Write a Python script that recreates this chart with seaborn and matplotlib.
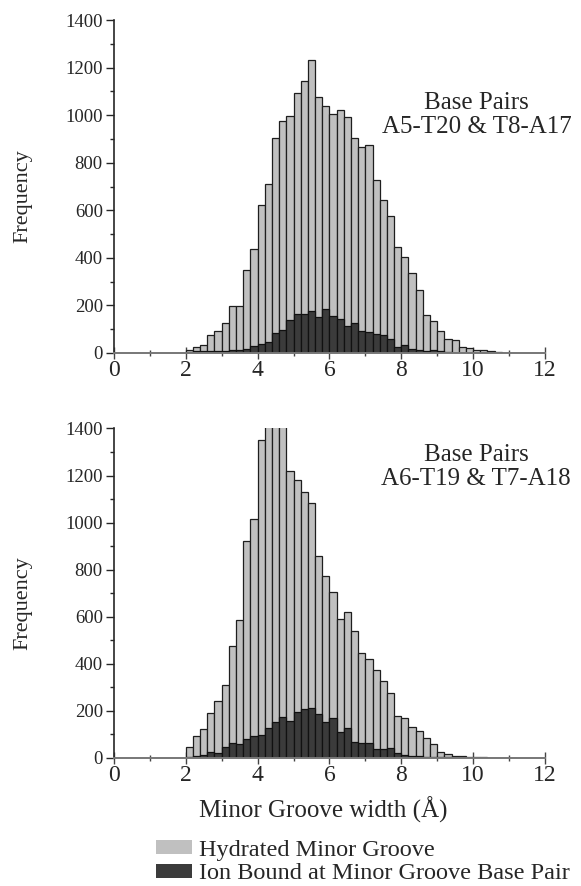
import numpy as np
import pandas as pd
import matplotlib
matplotlib.use('Agg')
import matplotlib.pyplot as plt
from matplotlib.patches import Patch
from matplotlib.ticker import MultipleLocator
import seaborn as sns

# minor groove width bins (left edge, Å), 0.2 Å wide
bin_left = np.round(np.arange(2.0, 11.2, 0.2), 1)
bin_edges = np.round(np.arange(2.0, 11.3, 0.2), 1)

# base pairs A5-T20 & T8-A17
hydrated_a5 = [13, 24, 34, 77, 92, 126, 197, 197, 348, 439,
               621, 710, 902, 974, 997, 1094, 1143, 1230, 1078, 1037,
               1004, 1023, 991, 902, 866, 874, 729, 643, 577, 447,
               403, 337, 264, 159, 135, 92, 60, 55, 26, 20,
               13, 14, 10, 6, 2, 2]
ion_a5 = [3, 7, 7, 9, 9, 10, 11, 13, 17, 28,
          38, 45, 84, 98, 138, 166, 163, 176, 152, 185,
          156, 141, 115, 125, 91, 89, 81, 74, 60, 24,
          34, 18, 14, 7, 13, 7, 3, 2, 1, 1,
          0, 0, 0, 0, 0, 0]

# base pairs A6-T19 & T7-A18 (4.2-4.6 go off the top of the axis)
hydrated_a6 = [44, 91, 122, 189, 240, 310, 474, 584, 922, 1017,
               1349, 1500, 1560, 1480, 1219, 1180, 1128, 1084, 859, 774,
               703, 588, 619, 540, 447, 418, 375, 328, 277, 176,
               170, 132, 114, 82, 58, 26, 14, 9, 6, 3,
               2, 2, 0, 0, 0, 0]
ion_a6 = [1, 7, 11, 24, 20, 44, 61, 57, 78, 91,
          95, 125, 153, 175, 158, 195, 207, 213, 186, 151,
          170, 111, 125, 68, 62, 61, 36, 36, 40, 18,
          10, 7, 8, 4, 3, 2, 1, 0, 0, 0,
          0, 0, 0, 0, 0, 0]

labels = ['Base Pairs\nA5-T20 & T8-A17', 'Base Pairs\nA6-T19 & T7-A18']
legend_names = ['Hydrated Minor Groove', 'Ion Bound at Minor Groove Base Pair']

light = '#c0c0c0'
dark = '#3b3b3b'

sns.set_style('ticks')
plt.rcParams['font.family'] = ['Liberation Serif', 'DejaVu Serif']

fig = plt.figure(figsize=(5.81, 8.86), dpi=100)
ax1 = fig.add_axes([0.196, 0.6016, 0.742, 0.3758])
ax2 = fig.add_axes([0.196, 0.1448, 0.742, 0.3716])

panels = [(ax1, hydrated_a5, ion_a5, labels[0], 10.1, 1000),
          (ax2, hydrated_a6, ion_a6, labels[1], 10.08, 1236)]

for ax, hyd, ion, lab, tx, ty in panels:
    df = pd.DataFrame({'width': bin_left + 0.1, 'hyd': hyd, 'ion': ion})
    sns.histplot(data=df, x='width', weights='hyd', bins=list(bin_edges),
                 ax=ax, color=light, edgecolor='#1e1e1e', linewidth=0.9,
                 alpha=1)
    sns.histplot(data=df, x='width', weights='ion', bins=list(bin_edges),
                 ax=ax, color=dark, edgecolor='#111111', linewidth=0.9,
                 alpha=1)
    ax.set_xlim(0, 12)
    ax.set_ylim(0, 1400)
    ax.xaxis.set_major_locator(MultipleLocator(2))
    ax.xaxis.set_minor_locator(MultipleLocator(1))
    ax.yaxis.set_major_locator(MultipleLocator(200))
    ax.yaxis.set_minor_locator(MultipleLocator(100))
    ax.tick_params(axis='x', which='major', direction='inout', length=8,
                   width=1, labelsize=17, pad=1, color='#444444')
    ax.tick_params(axis='x', which='minor', direction='inout', length=5,
                   width=1, color='#444444')
    ax.tick_params(axis='y', which='major', direction='out', length=6,
                   width=1, labelsize=13.5, pad=2)
    ax.tick_params(axis='y', which='minor', direction='out', length=3, width=1)
    sns.despine(ax=ax)
    ax.spines['left'].set_linewidth(1.2)
    ax.spines['bottom'].set_linewidth(1.4)
    ax.spines['bottom'].set_color('#777777')
    ax.set_xlabel('')
    ax.set_ylabel('Frequency', fontsize=16)
    ax.yaxis.set_label_coords(-0.19, 0.47)
    ax.text(tx, ty, lab, ha='center', va='center', fontsize=18,
            linespacing=1.1)

fig.text(0.557, 0.0858, 'Minor Groove width (Å)', ha='center', va='center',
         fontsize=18)

handles = [Patch(facecolor=light, edgecolor='none'),
           Patch(facecolor=dark, edgecolor='none')]
fig.legend(handles, legend_names, loc='upper left',
           bbox_to_anchor=(0.2685, 1 - 840 / 886), frameon=False,
           fontsize=17.5, borderpad=0, borderaxespad=0,
           handlelength=1.5, handleheight=0.52, handletextpad=0.28,
           labelspacing=0.1)

fig.savefig('out.png', dpi=100)
